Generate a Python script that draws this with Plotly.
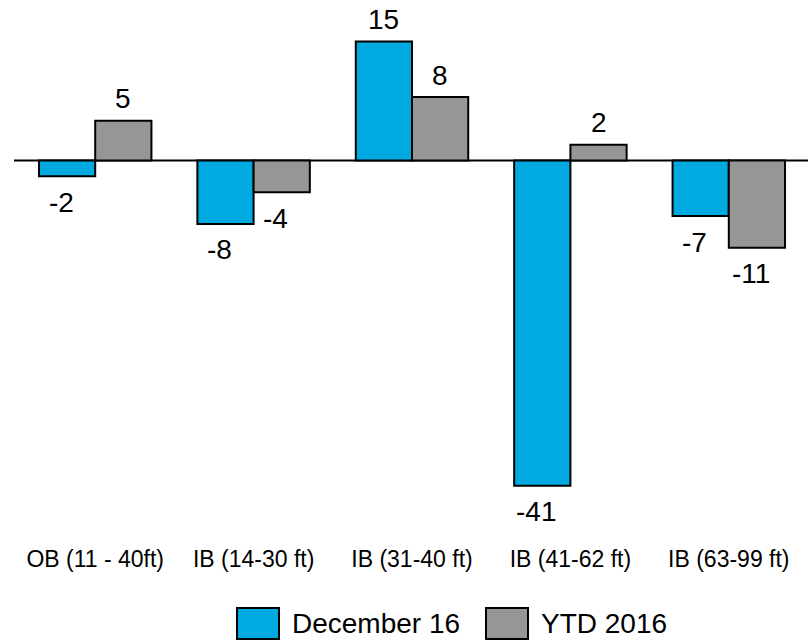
import plotly.graph_objects as go

# Data
categories = ["OB (11 - 40ft)", "IB (14-30 ft)", "IB (31-40 ft)", "IB (41-62 ft)", "IB (63-99 ft)"]
december_16 = [-2, -8, 15, -41, -7]
ytd_2016 = [5, -4, 8, 2, -11]
series_names = ["December 16", "YTD 2016"]

BLUE = "#00A9DF"
GRAY = "#969696"
FONT = "Arial, Liberation Sans, sans-serif"

W, H = 808, 641
M_L, M_R, M_T, M_B = 16, 0, 0, 121
PLOT_W = W - M_L - M_R
PLOT_H = H - M_T - M_B
BARGAP = 0.29

fig = go.Figure()
for name, vals, color in [(series_names[0], december_16, BLUE), (series_names[1], ytd_2016, GRAY)]:
    fig.add_trace(go.Bar(
        x=categories, y=vals, name=name,
        marker=dict(color=color, line=dict(color="black", width=2)),
        showlegend=False,
    ))

# Value labels just beyond the end of each bar
slot = PLOT_W / len(categories)
half_bar = slot * (1 - BARGAP) / 4
for offset, vals in [(-half_bar, december_16), (half_bar, ytd_2016)]:
    for cat, v in zip(categories, vals):
        fig.add_annotation(
            x=cat, y=v, text=str(v), showarrow=False,
            xshift=offset + (-6 if v < 0 else 0),
            yshift=-26 if v < 0 else 22,
            yanchor="middle",
            font=dict(family=FONT, size=28, color="black"),
        )

# Legend drawn below the plot
def px_x(x):
    return (x - M_L) / PLOT_W

def px_y(y):
    return (M_T + PLOT_H - y) / PLOT_H

legend_items = [(series_names[0], BLUE, 237), (series_names[1], GRAY, 486)]
for name, color, x0 in legend_items:
    fig.add_shape(
        type="rect", xref="paper", yref="paper",
        x0=px_x(x0), x1=px_x(x0 + 42), y0=px_y(639), y1=px_y(608),
        fillcolor=color, line=dict(color="black", width=2),
    )
    fig.add_annotation(
        xref="paper", yref="paper", x=px_x(x0 + 53), y=px_y(623),
        text=name, showarrow=False, xanchor="left", yanchor="middle",
        font=dict(family=FONT, size=28, color="black"),
    )

# Baseline across the full width at zero
fig.add_shape(
    type="line", xref="paper", yref="y",
    x0=px_x(14), x1=1, y0=0, y1=0,
    line=dict(color="black", width=2), layer="below",
)

fig.update_layout(
    width=W, height=H,
    margin=dict(l=M_L, r=M_R, t=M_T, b=M_B),
    paper_bgcolor="white", plot_bgcolor="white",
    barmode="group", bargap=BARGAP, bargroupgap=0,
    font=dict(family=FONT, color="black"),
)
fig.update_xaxes(
    showgrid=False, showline=False, ticks="",
    tickfont=dict(family=FONT, size=23, color="black"),
    ticklabelstandoff=23,
)
fig.update_yaxes(
    range=[-45.33, 20.24], showgrid=False, showticklabels=False,
    zeroline=False,
)

fig.write_html("out.html")
